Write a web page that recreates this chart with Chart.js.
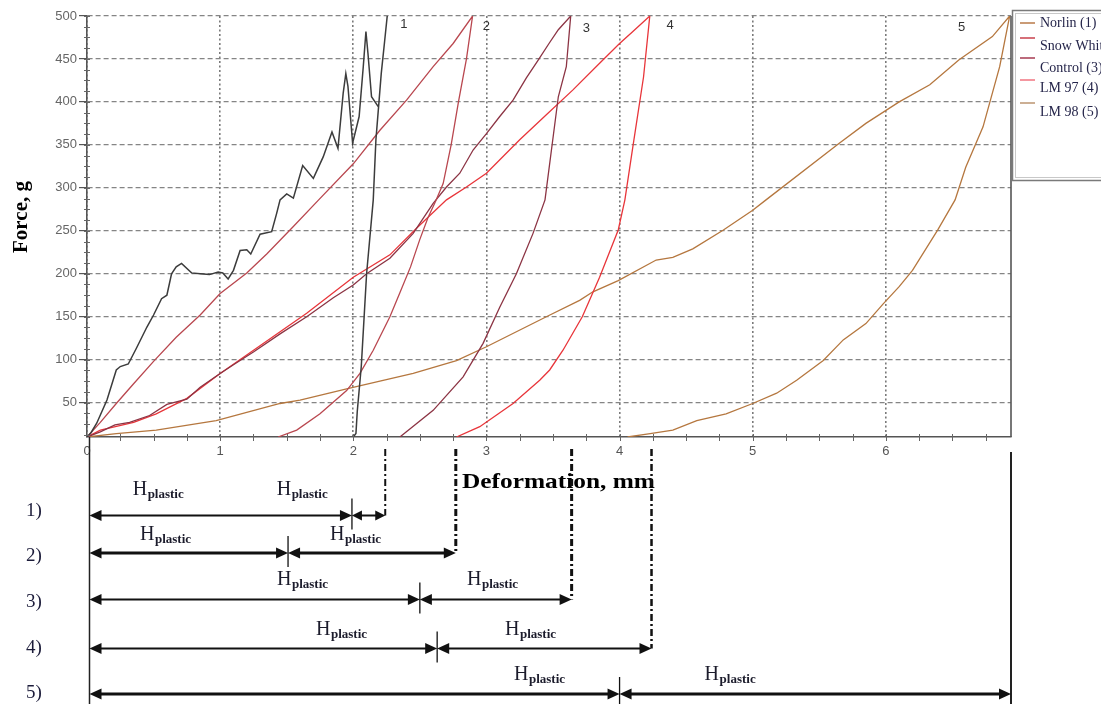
<!DOCTYPE html>
<html><head><meta charset="utf-8">
<script src="https://cdn.jsdelivr.net/npm/chart.js@4.4.1/dist/chart.umd.min.js"></script>
<style>html,body{margin:0;padding:0;background:#fff;}#wrap{width:1101px;height:704px;}</style>
</head><body><div id="wrap"><canvas id="c" width="1101" height="704"></canvas></div>
<script>
// ---------- data ----------
const xTickValues = [0, 1, 2, 3, 4, 5, 6];
const yTickValues = [50, 100, 150, 200, 250, 300, 350, 400, 450, 500];
const seriesNames = ['Norlin (1)', 'Snow White (2)', 'Control (3)', 'LM 97 (4)', 'LM 98 (5)'];
const curveNumbers = ['1', '2', '3', '4', '5'];
const curveNumberX = [2.38, 3.0, 3.75, 4.38, 6.57];
const curveNumberY = [490, 488, 485, 489, 487];

const norlinDef = [0, 0.03, 0.073, 0.15, 0.22, 0.25, 0.31, 0.37, 0.45, 0.50, 0.56, 0.60, 0.635, 0.67, 0.71, 0.785, 0.85, 0.92, 0.985, 1.02, 1.06, 1.10, 1.15, 1.20, 1.23, 1.30, 1.387, 1.424, 1.45, 1.50, 1.55, 1.62, 1.70, 1.774, 1.84, 1.885, 1.924, 1.944, 1.96, 1.995, 2.044, 2.075, 2.095, 2.11, 2.137, 2.19, 2.21, 2.235, 2.255,
  2.235, 2.21, 2.17, 2.15, 2.10, 2.06, 2.03, 2.02, 2.0];
const norlinForce = [10, 15, 26, 53, 88, 92, 95, 113, 138, 152, 171, 175, 200, 208, 212, 201, 200, 199, 202, 201, 194, 204, 227, 228, 223, 246, 249, 270, 286, 293, 288, 326, 311, 336, 365, 346, 410, 433, 418, 352, 383, 441, 482, 457, 406, 394, 433, 470, 500,
  470, 433, 356, 286, 200, 92, 40, 14, 10];

const snowDef = [0, 0.1, 0.22, 0.35, 0.5, 0.67, 0.85, 1.0, 1.2, 1.35, 1.55, 1.74, 2.0, 2.2, 2.4, 2.6, 2.75, 2.896,
  2.85, 2.79, 2.735, 2.675, 2.62, 2.56, 2.50, 2.43, 2.35, 2.275, 2.15, 2.05, 1.95, 1.75, 1.575, 1.435];
const snowForce = [10, 27, 49, 72, 98, 126, 152, 177, 201, 223, 255, 286, 328, 367, 402, 441, 468, 500,
  450, 400, 350, 305, 285, 265, 240, 208, 178, 150, 111, 84, 64, 37, 18, 10];

const controlDef = [0, 0.1, 0.21, 0.32, 0.47, 0.6, 0.75, 0.85, 1.0, 1.1, 1.25, 1.45, 1.65, 1.85, 2.0, 2.1, 2.275, 2.45, 2.6, 2.7, 2.8, 2.9, 3.0, 3.1, 3.2, 3.3, 3.39, 3.47, 3.54, 3.633,
  3.60, 3.54, 3.44, 3.35, 3.225, 3.10, 2.975, 2.825, 2.60, 2.35];
const controlForce = [10, 16, 24, 27, 35, 48, 54, 68, 84, 94, 109, 130, 150, 172, 187, 200, 218, 247, 282, 301, 317, 344, 363, 383, 402, 428, 449, 468, 484, 500,
  441, 406, 286, 247, 200, 161, 119, 80, 41, 10];

const lm97Def = [0, 0.1, 0.35, 0.52, 0.75, 1.0, 1.65, 2.0, 2.275, 2.475, 2.7, 2.85, 3.0, 3.25, 3.45, 3.65, 3.85, 4.0, 4.1, 4.227,
  4.18, 4.10, 4.04, 3.99, 3.85, 3.72, 3.575, 3.475, 3.40, 3.20, 2.95, 2.775];
const lm97Force = [10, 18, 27, 37, 55, 84, 154, 196, 222, 253, 286, 301, 317, 356, 385, 414, 445, 468, 482, 500,
  429, 348, 286, 251, 196, 150, 111, 88, 76, 49, 22, 10];

const lm98Def = [0, 0.22, 0.52, 0.97, 1.45, 1.60, 1.95, 2.45, 2.775, 3.0, 3.45, 3.7, 3.8, 3.99, 4.275, 4.40, 4.55, 4.78, 5.0, 5.1, 5.65, 5.85, 6.1, 6.33, 6.55, 6.8, 6.93,
  6.855, 6.73, 6.60, 6.52, 6.39, 6.20, 6.10, 5.98, 5.85, 5.68, 5.53, 5.33, 5.18, 5.0, 4.80, 4.58, 4.40, 4.23, 4.06];
const lm98Force = [10, 14, 18, 29, 49, 53, 66, 84, 99, 115, 150, 169, 179, 192, 216, 219, 229, 251, 274, 286, 352, 375, 400, 420, 449, 476, 500,
  441, 371, 324, 286, 251, 204, 185, 165, 142, 123, 99, 76, 61, 49, 37, 29, 18, 14, 10];

// lower diagram: split point and end of each H_plastic bar (deformation, mm)
const rowLabels = ['1)', '2)', '3)', '4)', '5)'];
const rowSplit = [1.99, 1.51, 2.50, 2.63, 4.00];
const rowEnd = [2.24, 2.77, 3.64, 4.24, 6.94];

// ---------- styles ----------
const lineColors = ['#3c3c3c', '#b9474f', '#8c3444', '#e8353a', '#b5773f'];
const legendColors = ['#b87a48', '#c8404c', '#a63a50', '#f07480', '#bb9470'];
const zip = (xs, ys) => xs.map((x, i) => ({ x: x, y: ys[i] }));
const seriesX = [norlinDef, snowDef, controlDef, lm97Def, lm98Def];
const seriesY = [norlinForce, snowForce, controlForce, lm97Force, lm98Force];

const SERIF = '"Liberation Serif", "Times New Roman", serif';
const SANS = '"Liberation Sans", Arial, sans-serif';

function line(ctx, x1, y1, x2, y2) { ctx.beginPath(); ctx.moveTo(x1, y1); ctx.lineTo(x2, y2); ctx.stroke(); }
function head(ctx, tip, y, dir, len, half) {
  ctx.beginPath(); ctx.moveTo(tip, y); ctx.lineTo(tip - dir * len, y - half); ctx.lineTo(tip - dir * len, y + half); ctx.closePath(); ctx.fill();
}
function dbl(ctx, a, b, y, w, len, half) {
  ctx.lineWidth = w; line(ctx, a + len * 0.6, y, b - len * 0.6, y);
  head(ctx, a, y, -1, len, half); head(ctx, b, y, 1, len, half);
}
function hplastic(ctx, x, base) {
  ctx.textAlign = 'left'; ctx.textBaseline = 'alphabetic';
  ctx.font = '20px ' + SERIF; ctx.fillText('H', x, base);
  const w = ctx.measureText('H').width;
  ctx.font = 'bold 13px ' + SERIF; ctx.fillText('plastic', x + w + 0.5, base + 3);
}

const overlay = {
  id: 'overlay',
  afterDraw(chart) {
    const ctx = chart.ctx, xs = chart.scales.x, ys = chart.scales.y, a = chart.chartArea;
    ctx.save();
    // right frame
    ctx.strokeStyle = '#555'; ctx.lineWidth = 1.6;
    line(ctx, a.right, a.top, a.right, a.bottom);
    // minor ticks
    ctx.strokeStyle = '#666'; ctx.lineWidth = 1;
    for (let v = 0.25; v <= xs.max; v += 0.25) { const p = Math.round(xs.getPixelForValue(v)) + 0.5; line(ctx, p, a.bottom - 3, p, a.bottom + 4); }
    for (let v = 12.5; v <= 500; v += 12.5) { const p = Math.round(ys.getPixelForValue(v)) + 0.5; line(ctx, a.left - 3, p, a.left + 3, p); }
    // curve numbers
    ctx.fillStyle = '#333'; ctx.font = '13px ' + SANS; ctx.textAlign = 'center'; ctx.textBaseline = 'middle';
    curveNumbers.forEach((t, i) => ctx.fillText(t, xs.getPixelForValue(curveNumberX[i]), ys.getPixelForValue(curveNumberY[i])));
    // axis titles
    ctx.fillStyle = '#000';
    ctx.save(); ctx.translate(22, 217); ctx.rotate(-Math.PI / 2);
    ctx.font = 'bold 21px ' + SERIF; ctx.textAlign = 'center'; ctx.textBaseline = 'middle';
    ctx.fillText('Force, g', 0, 0); ctx.restore();
    ctx.save(); ctx.font = 'bold 21px ' + SERIF;
    const tw = ctx.measureText('Deformation, mm').width;
    ctx.translate(462, 488); ctx.scale(193 / tw, 1); ctx.textAlign = 'left'; ctx.textBaseline = 'alphabetic';
    ctx.fillText('Deformation, mm', 0, 0); ctx.restore();
    // legend
    ctx.strokeStyle = '#7a7a7a'; ctx.lineWidth = 1.5; ctx.strokeRect(1012.5, 10.5, 120, 170);
    ctx.strokeStyle = '#c8c8c8'; ctx.lineWidth = 1; ctx.strokeRect(1015.5, 13.5, 120, 164);
    const ly = [23, 38, 58, 80, 103], ty = [27, 50, 72, 92, 116];
    seriesNames.forEach((n, i) => {
      ctx.strokeStyle = legendColors[i]; ctx.lineWidth = 1.5; line(ctx, 1020, ly[i], 1035, ly[i]);
      ctx.fillStyle = '#25254a'; ctx.font = '14px ' + SERIF; ctx.textAlign = 'left'; ctx.textBaseline = 'alphabetic';
      ctx.fillText(n, 1040, ty[i]);
    });
    // ---- lower diagram ----
    const X = v => xs.getPixelForValue(v);
    const rowY = [515.5, 553, 599.5, 648.5, 694];
    const rowW = [2, 3, 2, 2, 3];
    const x0 = X(0) + 2.5;
    ctx.strokeStyle = '#222'; ctx.lineWidth = 1.5;
    line(ctx, x0, a.bottom, x0, 704);
    ctx.lineWidth = 2; line(ctx, X(6.94), 452, X(6.94), 704);
    // dash-dot drop lines
    const ddW = [2, 3, 3, 2.5];
    for (let i = 0; i < 4; i++) {
      ctx.save(); ctx.setLineDash([7, 3, 2, 3]); ctx.lineWidth = ddW[i]; ctx.strokeStyle = '#111';
      line(ctx, X(rowEnd[i]), 449, X(rowEnd[i]), rowY[i]); ctx.restore();
    }
    ctx.fillStyle = '#111'; ctx.strokeStyle = '#111';
    rowLabels.forEach((t, i) => {
      const y = rowY[i], s = X(rowSplit[i]), e = X(rowEnd[i]);
      dbl(ctx, x0, s, y, rowW[i], 12, 5.5);
      const short = (e - s) < 40;
      dbl(ctx, s, e, y, rowW[i], short ? 10 : 12, short ? 5 : 5.5);
      ctx.lineWidth = 1.3; line(ctx, s, y - 17, s, Math.min(y + 14, 704));
      ctx.fillStyle = '#1c1c3a'; ctx.font = '19px ' + SERIF; ctx.textAlign = 'left'; ctx.textBaseline = 'middle';
      ctx.fillText(t, 26, [511, 556, 602, 648, 693][i]);
      ctx.fillStyle = '#111';
    });
    ctx.fillStyle = '#1c1c2c';
    const hx = [[132.7, 276.7], [140, 330], [277, 467], [316, 505], [514, 704.6]];
    const hb = [495, 540, 585, 635, 680];
    hx.forEach((pair, i) => pair.forEach(px => hplastic(ctx, px, hb[i])));
    ctx.restore();
  }
};

new Chart(document.getElementById('c'), {
  type: 'line',
  data: {
    datasets: seriesNames.map((n, i) => ({
      label: n, data: zip(seriesX[i], seriesY[i]), borderColor: lineColors[i], backgroundColor: lineColors[i],
      borderWidth: i === 0 ? 1.5 : 1.3, pointRadius: 0, tension: 0, fill: false
    }))
  },
  options: {
    responsive: false, animation: false, devicePixelRatio: 1,
    layout: { padding: { top: 16, right: 90, left: 0, bottom: 0 } },
    plugins: { legend: { display: false }, tooltip: { enabled: false } },
    scales: {
      x: {
        type: 'linear', min: 0, max: 6.94,
        afterBuildTicks: s => { s.ticks = xTickValues.map(v => ({ value: v })); },
        afterFit: s => { s.height = 267; },
        ticks: { font: { family: SANS, size: 13 }, color: '#555', padding: 7, maxRotation: 0, autoSkip: false },
        grid: { color: '#7a7a7a', lineWidth: 1.6, drawTicks: false },
        border: { display: true, color: '#555', width: 1.6, dash: [2, 2.5] }
      },
      y: {
        type: 'linear', min: 10, max: 500,
        afterBuildTicks: s => { s.ticks = yTickValues.map(v => ({ value: v })); },
        afterFit: s => { s.width = 87; },
        ticks: { font: { family: SANS, size: 13 }, color: '#666', padding: 2 },
        grid: { color: '#858585', lineWidth: 1.2, drawTicks: true, tickLength: 8, tickColor: '#555', tickWidth: 1.2 },
        border: { display: true, color: '#555', width: 1.6, dash: [5, 3] }
      }
    }
  },
  plugins: [overlay]
});
</script></body></html>
